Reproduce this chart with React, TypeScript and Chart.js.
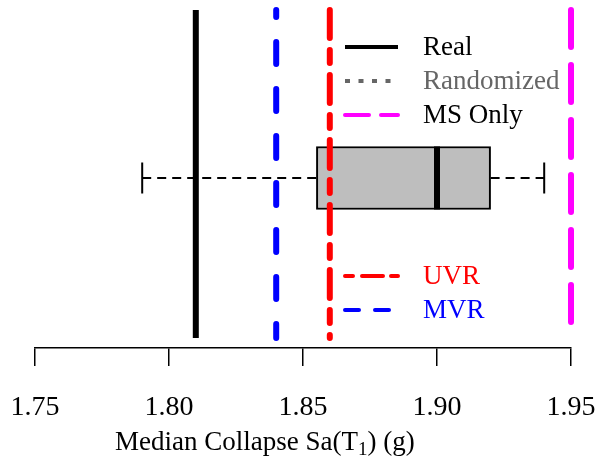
import React, { useEffect, useRef } from "react";
import { Chart, registerables } from "chart.js";

Chart.register(...registerables);

// ---- data ----
const xTickValues = [1.75, 1.8, 1.85, 1.9, 1.95];
const refLabels = ["Real", "MVR", "UVR", "MS Only"];
const refValues = [1.81, 1.84, 1.86, 1.95];
const randomizedWhisker = [1.79, 1.94];
const randomizedBox = [1.855, 1.92];
const randomizedMedian = [1.9];
const legendTopLabels = ["Real", "Randomized", "MS Only"];
const legendBottomLabels = ["UVR", "MVR"];
const axisTitleParts = ["Median Collapse Sa(T", "1", ") (g)"];

// ---- styles / layout ----
const FONT = "'Liberation Serif', 'Times New Roman', serif";
const Y_LINE_TOP = 100;
const Y_LINE_BOTTOM = 3;
const Y_BOX_CENTER = 50.3;
const Y_CAP_HALF = 4.6;
const BOX_THICKNESS = 63;
const PX_PER_Y = 3.38;

const refStyles: Record<string, { color: string; dash: number[]; offset: number }> = {
  Real: { color: "#000000", dash: [], offset: 0 },
  MVR: { color: "#0000FF", dash: [22, 25], offset: 15 },
  UVR: { color: "#FF0000", dash: [28, 12, 13, 12], offset: 0 },
  "MS Only": { color: "#FF00FF", dash: [37, 18], offset: 0 },
};

const legendTopStyles = [
  { color: "#000000", text: "#000000", dash: [] as number[], cap: "butt" },
  { color: "#666666", text: "#666666", dash: [5, 8.5], cap: "butt" },
  { color: "#FF00FF", text: "#000000", dash: [24, 12], cap: "round" },
];
const legendBottomStyles = [
  { color: "#FF0000", text: "#FF0000", dash: [8, 9, 21, 8], cap: "round" },
  { color: "#0000FF", text: "#0000FF", dash: [14, 16], cap: "round" },
];

const legendPlugin = {
  id: "customLegendAndTitle",
  afterDraw(chart: any) {
    const ctx = chart.ctx as CanvasRenderingContext2D;
    const drawGroup = (labels: string[], styles: any[], y0: number) => {
      labels.forEach((lab, i) => {
        const st = styles[i];
        const y = y0 + i * 34;
        ctx.save();
        ctx.beginPath();
        ctx.strokeStyle = st.color;
        ctx.lineWidth = 4;
        ctx.lineCap = st.cap;
        ctx.setLineDash(st.dash);
        ctx.moveTo(345, y);
        ctx.lineTo(398, y);
        ctx.stroke();
        ctx.restore();
        ctx.save();
        ctx.fillStyle = st.text;
        ctx.font = `27px ${FONT}`;
        ctx.textBaseline = "middle";
        ctx.textAlign = "left";
        ctx.fillText(lab, 423, y + 1);
        ctx.restore();
      });
    };
    drawGroup(legendTopLabels, legendTopStyles, 47);
    drawGroup(legendBottomLabels, legendBottomStyles, 276);

    // axis title with subscript
    ctx.save();
    ctx.fillStyle = "#000000";
    ctx.textBaseline = "alphabetic";
    ctx.textAlign = "left";
    let x = 115;
    const yb = 450;
    ctx.font = `27px ${FONT}`;
    ctx.fillText(axisTitleParts[0], x, yb);
    x += ctx.measureText(axisTitleParts[0]).width;
    ctx.font = `19px ${FONT}`;
    ctx.fillText(axisTitleParts[1], x, yb + 5);
    x += ctx.measureText(axisTitleParts[1]).width;
    ctx.font = `27px ${FONT}`;
    ctx.fillText(axisTitleParts[2], x, yb);
    ctx.restore();
  },
};

export default function App() {
  const ref = useRef<HTMLCanvasElement | null>(null);

  useEffect(() => {
    if (!ref.current) return;
    Chart.defaults.font.family = FONT;

    const refDatasets = refLabels.map((lab, i) => ({
      type: "line" as const,
      label: lab,
      data: [
        { x: refValues[i], y: Y_LINE_TOP },
        { x: refValues[i], y: Y_LINE_BOTTOM },
      ],
      borderColor: refStyles[lab].color,
      borderWidth: 6,
      borderDash: refStyles[lab].dash,
      borderDashOffset: refStyles[lab].offset,
      borderCapStyle: lab === "Real" ? "butt" : "round",
      pointRadius: 0,
      fill: false,
      clip: false as any,
      order: 0,
    }));

    const lineBase = {
      type: "line" as const,
      pointRadius: 0,
      fill: false,
      clip: false as any,
      borderColor: "#000000",
    };

    const halfBox = BOX_THICKNESS / 2 / PX_PER_Y;

    const chart = new Chart(ref.current, {
      type: "line",
      data: {
        datasets: [
          ...refDatasets,
          {
            ...lineBase,
            label: "median",
            data: [
              { x: randomizedMedian[0], y: Y_BOX_CENTER + halfBox },
              { x: randomizedMedian[0], y: Y_BOX_CENTER - halfBox },
            ],
            borderWidth: 6,
            order: 1,
          },
          {
            ...lineBase,
            label: "whiskerLow",
            data: [
              { x: randomizedWhisker[0], y: Y_BOX_CENTER },
              { x: randomizedBox[0], y: Y_BOX_CENTER },
            ],
            borderWidth: 2,
            borderDash: [9, 6],
            order: 2,
          },
          {
            ...lineBase,
            label: "whiskerHigh",
            data: [
              { x: randomizedBox[1], y: Y_BOX_CENTER },
              { x: randomizedWhisker[1], y: Y_BOX_CENTER },
            ],
            borderWidth: 2,
            borderDash: [9, 6],
            order: 2,
          },
          {
            ...lineBase,
            label: "capLow",
            data: [
              { x: randomizedWhisker[0], y: Y_BOX_CENTER + Y_CAP_HALF },
              { x: randomizedWhisker[0], y: Y_BOX_CENTER - Y_CAP_HALF },
            ],
            borderWidth: 2,
            order: 2,
          },
          {
            ...lineBase,
            label: "capHigh",
            data: [
              { x: randomizedWhisker[1], y: Y_BOX_CENTER + Y_CAP_HALF },
              { x: randomizedWhisker[1], y: Y_BOX_CENTER - Y_CAP_HALF },
            ],
            borderWidth: 2,
            order: 2,
          },
          {
            type: "bar" as const,
            label: "Randomized",
            indexAxis: "y" as const,
            data: [{ x: randomizedBox, y: Y_BOX_CENTER }] as any,
            backgroundColor: "#BEBEBE",
            borderColor: "#000000",
            borderWidth: 2,
            borderSkipped: false,
            barThickness: BOX_THICKNESS,
            order: 3,
          } as any,
        ],
      },
      options: {
        responsive: false,
        animation: false,
        events: [],
        layout: { padding: { left: 35, right: 30, top: 10, bottom: 7.6 }, autoPadding: false },
        plugins: {
          legend: { display: false },
          tooltip: { enabled: false },
        },
        scales: {
          x: {
            type: "linear",
            position: "bottom",
            offset: false,
            min: xTickValues[0],
            max: xTickValues[xTickValues.length - 1],
            afterBuildTicks: (scale: any) => {
              scale.ticks = xTickValues.map((v) => ({ value: v }));
            },
            ticks: {
              color: "#000000",
              font: { size: 28, family: FONT, lineHeight: 2.94 },
              padding: 0,
              maxRotation: 0,
              autoSkip: false,
              callback: (v: any) => Number(v).toFixed(2),
            },
            grid: {
              display: true,
              offset: false,
              drawOnChartArea: false,
              drawTicks: true,
              tickLength: 18,
              color: "#000000",
              lineWidth: 1.5,
            },
            border: { display: true, color: "#000000", width: 1.5 },
          },
          y: {
            type: "linear",
            display: false,
            offset: false,
            min: 0,
            max: 100,
            grid: { offset: false },
          },
        },
      },
      plugins: [legendPlugin],
    } as any);

    return () => chart.destroy();
  }, []);

  return (
    <div style={{ position: "fixed", left: 0, top: 0, width: 601, height: 456, background: "#ffffff" }}>
      <canvas ref={ref} width={601} height={456} style={{ display: "block" }} />
    </div>
  );
}
